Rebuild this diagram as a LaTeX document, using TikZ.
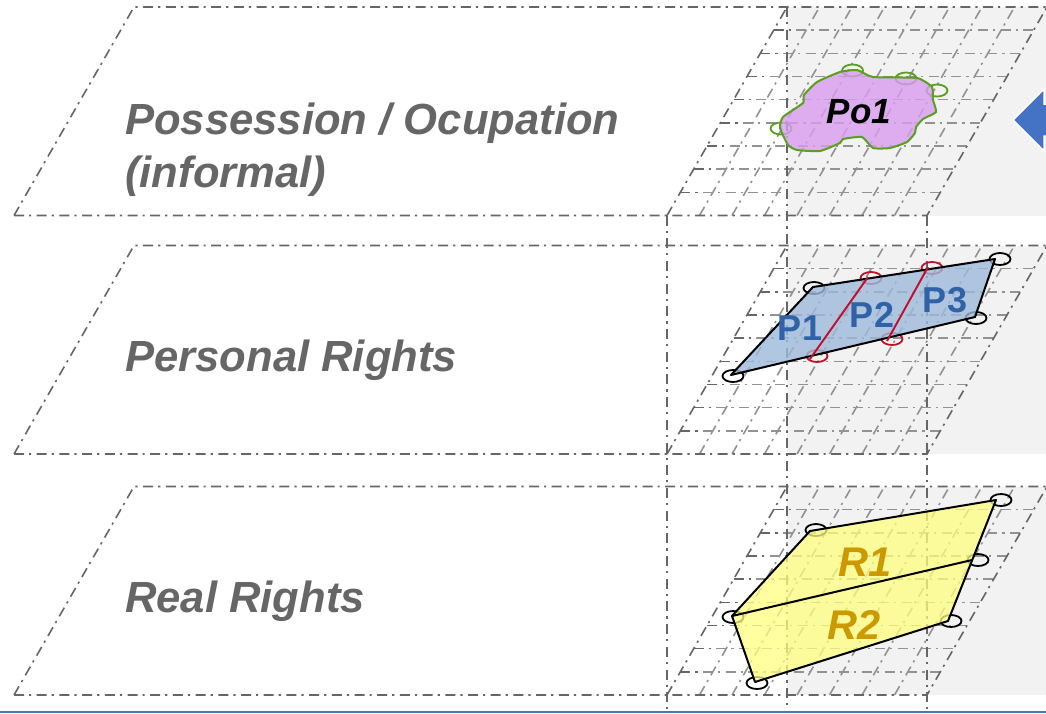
\documentclass[tikz,border=0pt]{standalone}
\usepackage{fontspec}
\setmainfont{Liberation Sans}
\tikzset{
  outerline/.style={draw=gridDark,line width=1.6pt,dash pattern=on 10pt off 5pt on 2.2pt off 5.5pt},
  innerline/.style={draw=gridLight,line width=1.6pt,dash pattern=on 10pt off 5pt on 2.2pt off 5.5pt},
  layertext/.style={anchor=base west,inner sep=0pt,text=layerGrey,font=\fontsize{43.6}{43.6}\selectfont\bfseries\itshape},
  ptext/.style={inner sep=0pt,text=pBlue,font=\fontsize{36}{36}\selectfont\bfseries},
  rtext/.style={inner sep=0pt,text=rGold,font=\fontsize{41.5}{41.5}\selectfont\bfseries\itshape},
  blacklink/.style={draw=black,line width=2pt,line join=round},
  handle/.style={ellipse,draw=#1,line width=1.8pt,minimum width=21pt,minimum height=12pt,inner sep=0pt},
}
\usetikzlibrary{shapes.geometric}
\definecolor{gridDark}{HTML}{666666}
\definecolor{gridLight}{HTML}{929292}
\definecolor{layerGrey}{HTML}{666666}
\definecolor{pBlue}{HTML}{2F62A6}
\definecolor{rGold}{HTML}{CC9900}
\definecolor{panel}{HTML}{F2F2F2}
\definecolor{poFill}{HTML}{D89CF0}
\definecolor{poLine}{HTML}{58A01E}
\definecolor{pFill}{HTML}{9DB9DB}
\definecolor{rFill}{HTML}{FFFF80}
\definecolor{linkRed}{HTML}{C00F28}
\definecolor{arrowBlue}{HTML}{4472C4}
\definecolor{baseBlue}{HTML}{4A76A8}
\begin{document}
\begin{tikzpicture}[x=1pt,y=-1pt]
\useasboundingbox (0,0) rectangle (1046,713);
\fill[white] (0,0) rectangle (1046,713);
% panels and grids
\foreach \o in {0,238.5,479.5}{
  \begin{scope}[shift={(0,\o)}]
    \fill[panel] (787,7) rectangle (1046,215.5);
    \foreach \i in {1,...,8}{
      \draw[innerline] ({667+120*\i/9},{215.5-208.5*\i/9}) -- ({927+120*\i/9},{215.5-208.5*\i/9});
    }
    \foreach \i in {1,...,7}{
      \draw[innerline] ({667+32.5*\i},215.5) -- ({787+32.5*\i},7);
    }
    \draw[outerline] (14,215.5) -- (134,7) -- (1046,7);
    \draw[outerline] (14,215.5) -- (927,215.5) -- (1047,7);
    \draw[outerline] (667,215.5) -- (787,7);
    \foreach \i in {1,...,8}{
      \draw[outerline] ({667+120*\i/9},{215.5-208.5*\i/9}) -- ({667+120*\i/9+22},{215.5-208.5*\i/9});
    }
  \end{scope}
}
% vertical guides
\draw[outerline] (667,215.5) -- (667,712);
\draw[outerline] (787,7) -- (787,712);
\draw[outerline] (927,215.5) -- (927,712);
% layer titles
\node[layertext] (tPo) at (125,134) {Possession / Ocupation};
\node[layertext] (tInf) at (125,187) {(informal)};
\node[layertext] (tPers) at (125,371) {Personal Rights};
\node[layertext] (tReal) at (125,612) {Real Rights};
% arrow
\fill[arrowBlue,draw=white,line width=1.5pt] (1013,120) -- (1044,89) -- (1044,104) -- (1048,104) -- (1048,136) -- (1044,136) -- (1044,151) -- cycle;
% Po1
\node[handle=poLine] (h1) at (852.5,70.5) {};
\node[handle=poLine] (h2) at (906,78.5) {};
\node[handle=poLine] (h3) at (937,90.5) {};
\node[handle=poLine] (h4) at (781,128.5) {};
\filldraw[fill=poFill,fill opacity=.8,draw=poLine,line width=2pt]
  plot[smooth cycle,tension=.3] coordinates {(783,117)(803,103)(804,95)(817,82)(840,72)(857,70)(873,77)(917,78)(932,87)(933,100)(936,112)(923,119)(916,127)(915,133)(907,142)(890,148)(873,148)(862,137)(843,139)(840,143)(820,151)(797,150)(788,145)(780,128)};
\node[inner sep=0pt,font=\fontsize{35}{35}\selectfont\bfseries\itshape] (po) at (859,112) {Po1};
% Personal
\node[handle=black] (p1) at (733,376) {};
\node[handle=black] (p2) at (814,288) {};
\node[handle=black] (p3) at (1000,259) {};
\node[handle=black] (p4) at (976,318) {};
\node[handle=linkRed] (p5) at (817,356) {};
\node[handle=linkRed] (p6) at (871,278) {};
\node[handle=linkRed] (p7) at (932,268) {};
\node[handle=linkRed] (p8) at (892,339) {};
\fill[pFill,fill opacity=.8] (731,375) -- (813,287) -- (995,259) -- (975,317) -- cycle;
\draw[blacklink] (731,375) -- (813,287) -- (995,259) -- (975,317) -- cycle;
\draw[draw=linkRed,line width=1.9pt] (868,277) -- (810,359);
\draw[draw=linkRed,line width=1.9pt] (928,267) -- (887,341);
\node[ptext] (tp1) at (800,328) {P1};
\node[ptext] (tp2) at (872,315) {P2};
\node[ptext] (tp3) at (945,300) {P3};
% Real
\node[handle=black] (r1) at (816,530) {};
\node[handle=black] (r2) at (1001,500) {};
\node[handle=black] (r3) at (978,560) {};
\node[handle=black] (r4) at (951,621) {};
\node[handle=black] (r5) at (757,683) {};
\node[handle=black] (r6) at (733,617) {};
\fill[rFill,fill opacity=.75] (732,616) -- (810,531) -- (996,500) -- (948,621) -- (755,682) -- cycle;
\draw[blacklink] (732,616) -- (810,531) -- (996,500) -- (948,621) -- (755,682) -- cycle;
\draw[blacklink] (732,616) -- (972,560);
\node[rtext] (tr1) at (865,562) {R1};
\node[rtext] (tr2) at (854,625) {R2};
% baseline rule
\fill[baseBlue] (0,711) rectangle (1046,713);
\end{tikzpicture}
\end{document}
